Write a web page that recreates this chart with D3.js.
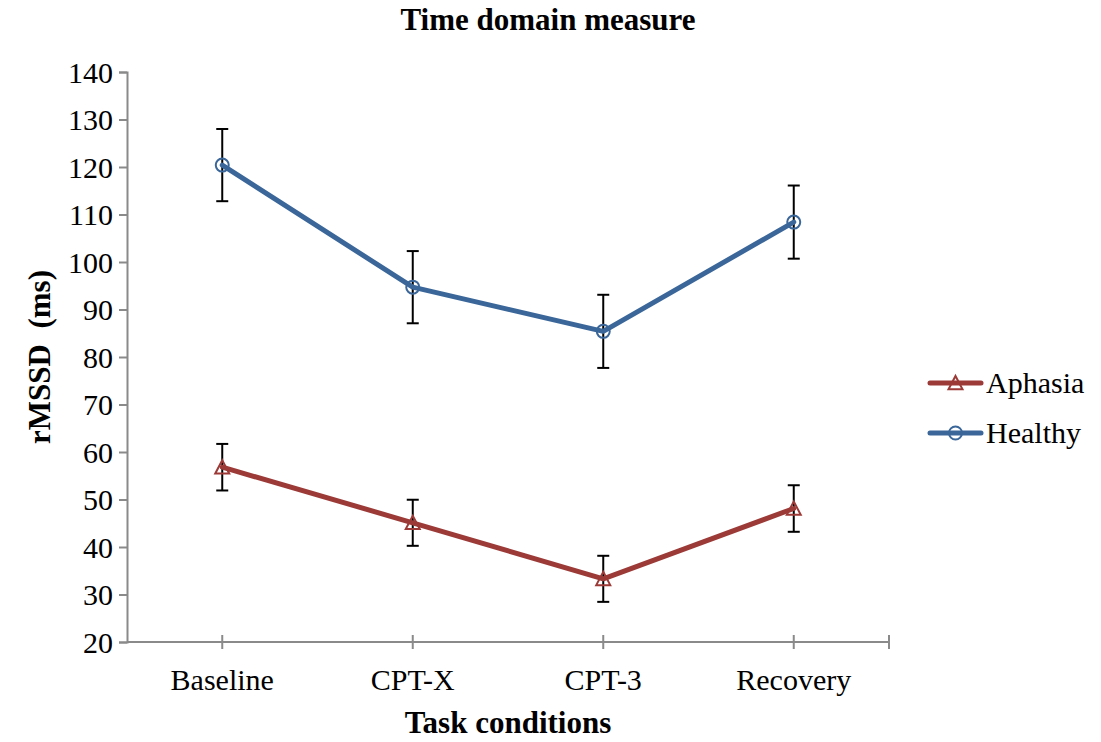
<!DOCTYPE html>
<html>
<head>
<meta charset="utf-8">
<script src="https://cdn.jsdelivr.net/npm/d3@7"></script>
<style>
  html, body { margin: 0; padding: 0; background: #fff; }
  svg { display: block; }
</style>
</head>
<body>
<svg id="chart" width="1101" height="742"></svg>
<script>
// Task conditions and rMSSD means (ms) with standard errors
const categories = ["Baseline", "CPT-X", "CPT-3", "Recovery"];
const aphasiaValues = [56.8, 45.1, 33.3, 48.1];
const aphasiaErrors = [4.9, 4.85, 4.85, 4.9];
const healthyValues = [120.4, 94.7, 85.4, 108.4];
const healthyErrors = [7.6, 7.6, 7.7, 7.7];
const yTicks = [20, 30, 40, 50, 60, 70, 80, 90, 100, 110, 120, 130, 140];

const series = [
  { name: "Aphasia", values: aphasiaValues, errors: aphasiaErrors, color: "#9b3a37", marker: "triangle" },
  { name: "Healthy", values: healthyValues, errors: healthyErrors, color: "#3a6699", marker: "circle" }
];

const svg = d3.select("#chart");
const font = "'Liberation Serif', 'Times New Roman', serif";
const axisColor = "#8a8a8a";
const labelSize = 30;
const titleSize = 31;
const seriesWidth = 5;

const plot = { left: 127, right: 889, top: 72, bottom: 642 };

const x = d3.scalePoint().domain(categories).range([plot.left, plot.right]).padding(0.5);
const y = d3.scaleLinear().domain([20, 140]).range([plot.bottom, plot.top]);

// Y axis
const yAxis = svg.append("g").attr("transform", `translate(${plot.left},0)`)
  .call(d3.axisLeft(y).tickValues(yTicks).tickSize(8).tickPadding(6));
yAxis.select(".domain").attr("stroke", axisColor).attr("stroke-width", 2);
yAxis.selectAll(".tick line").attr("stroke", axisColor).attr("stroke-width", 2);
yAxis.selectAll(".tick text").attr("font-family", font).attr("font-size", labelSize)
  .attr("fill", "#000").attr("dy", "0.34em");

// X axis: line with ticks crossing it at each category
const xg = svg.append("g");
xg.append("line")
  .attr("x1", plot.left).attr("x2", plot.right)
  .attr("y1", plot.bottom).attr("y2", plot.bottom)
  .attr("stroke", axisColor).attr("stroke-width", 2);
const xTickPositions = categories.map(c => x(c)).concat([plot.right]);
xg.selectAll("line.tick").data(xTickPositions).join("line")
  .attr("class", "tick")
  .attr("x1", d => d).attr("x2", d => d)
  .attr("y1", plot.bottom - 7).attr("y2", plot.bottom + 7)
  .attr("stroke", axisColor).attr("stroke-width", 2);
xg.selectAll("text").data(categories).join("text")
  .attr("x", d => x(d)).attr("y", 690)
  .attr("text-anchor", "middle")
  .attr("font-family", font).attr("font-size", labelSize)
  .text(d => d);

// Titles
svg.append("text").attr("x", 548).attr("y", 30).attr("text-anchor", "middle")
  .attr("font-family", font).attr("font-size", titleSize).attr("font-weight", "bold")
  .text("Time domain measure");
svg.append("text").attr("x", 508).attr("y", 733).attr("text-anchor", "middle")
  .attr("font-family", font).attr("font-size", titleSize).attr("font-weight", "bold")
  .text("Task conditions");
svg.append("text")
  .attr("transform", `translate(50,${(plot.top + plot.bottom) / 2}) rotate(-90)`)
  .attr("text-anchor", "middle")
  .attr("font-family", font).attr("font-size", titleSize).attr("font-weight", "bold")
  .attr("xml:space", "preserve")
  .text("rMSSD  (ms)");

const line = d3.line().x((d, i) => x(categories[i])).y(d => y(d));

function drawMarker(g, type, cx, cy, color) {
  if (type === "circle") {
    g.append("circle").attr("cx", cx).attr("cy", cy).attr("r", 6.5)
      .attr("fill", "none").attr("stroke", color).attr("stroke-width", 2);
  } else {
    const s = 7;
    g.append("path")
      .attr("d", `M${cx},${cy - s} L${cx + s},${cy + s * 0.9} L${cx - s},${cy + s * 0.9} Z`)
      .attr("fill", "none").attr("stroke", color).attr("stroke-width", 2);
  }
}

series.forEach(s => {
  const g = svg.append("g");
  // error bars
  s.values.forEach((v, i) => {
    const cx = x(categories[i]);
    const top = y(v + s.errors[i]);
    const bot = y(v - s.errors[i]);
    g.append("line").attr("x1", cx).attr("x2", cx).attr("y1", top).attr("y2", bot)
      .attr("stroke", "#000").attr("stroke-width", 2);
    [top, bot].forEach(yy => g.append("line")
      .attr("x1", cx - 6).attr("x2", cx + 6).attr("y1", yy).attr("y2", yy)
      .attr("stroke", "#000").attr("stroke-width", 2));
  });
  g.append("path").datum(s.values).attr("d", line)
    .attr("fill", "none").attr("stroke", s.color).attr("stroke-width", seriesWidth)
    .attr("stroke-linejoin", "round").attr("stroke-linecap", "round");
  s.values.forEach((v, i) => drawMarker(g, s.marker, x(categories[i]), y(v), s.color));
});

// Legend
const legendY = [383, 433];
series.forEach((s, i) => {
  const g = svg.append("g");
  const ly = legendY[i];
  g.append("line").attr("x1", 930).attr("x2", 981).attr("y1", ly).attr("y2", ly)
    .attr("stroke", s.color).attr("stroke-width", seriesWidth).attr("stroke-linecap", "round");
  drawMarker(g, s.marker, 955.5, ly, s.color);
  g.append("text").attr("x", 986).attr("y", ly + 10)
    .attr("font-family", font).attr("font-size", labelSize)
    .text(s.name);
});
</script>
</body>
</html>
